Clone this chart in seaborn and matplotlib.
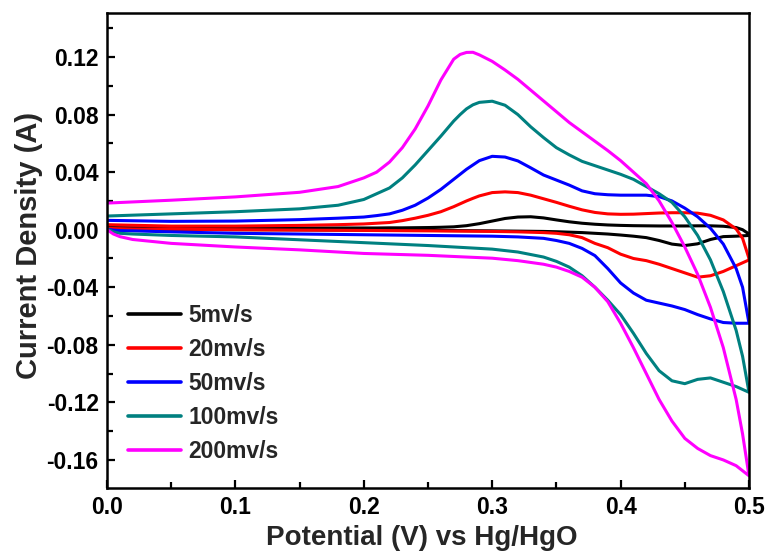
import numpy as np
import pandas as pd
import seaborn as sns
import matplotlib
matplotlib.use("Agg")
import matplotlib.pyplot as plt
from matplotlib.ticker import MultipleLocator, FormatStrFormatter

# ---------------- data ----------------
scan_rates = ["5mv/s", "20mv/s", "50mv/s", "100mv/s", "200mv/s"]
colors = ["#000000", "#ff0000", "#0000ff", "#008080", "#ff00ff"]

# anodic (forward) sweep potentials
pot_fwd = [0.0, 0.05, 0.10, 0.15, 0.18, 0.20, 0.21, 0.22, 0.23, 0.24, 0.25, 0.26,
           0.27, 0.275, 0.28, 0.285, 0.29, 0.30, 0.31, 0.32, 0.33, 0.34, 0.35, 0.36,
           0.37, 0.38, 0.39, 0.40, 0.41, 0.42, 0.43, 0.44, 0.45, 0.46, 0.47, 0.48,
           0.49, 0.495, 0.50]
# cathodic (reverse) sweep potentials
pot_rev = [0.50, 0.49, 0.48, 0.47, 0.46, 0.45, 0.44, 0.43, 0.42, 0.41, 0.40, 0.39,
           0.38, 0.37, 0.36, 0.35, 0.34, 0.32, 0.30, 0.25, 0.20, 0.15, 0.10, 0.05,
           0.02, 0.01, 0.005, 0.0]

fwd_5 = [0.0015, 0.0012, 0.0012, 0.0012, 0.0012, 0.0012, 0.0012, 0.0013, 0.0013, 0.0014,
         0.0015, 0.0017, 0.002, 0.0024, 0.0028, 0.0035, 0.0042, 0.006, 0.0078, 0.0088,
         0.009, 0.0082, 0.0068, 0.0055, 0.0045, 0.0038, 0.0033, 0.003, 0.0028, 0.0027,
         0.0026, 0.0026, 0.0026, 0.0027, 0.0027, 0.0024, 0.0015, 0.0, -0.003]
rev_5 = [-0.004, -0.0045, -0.0048, -0.0068, -0.0098, -0.011, -0.010, -0.0075, -0.0055,
         -0.0045, -0.0037, -0.003, -0.0025, -0.002, -0.0017, -0.0014, -0.0012, -0.001,
         -0.0008, -0.0005, -0.0003, -0.0001, 0.0, 0.0002, 0.0004, 0.0005, 0.0005, 0.0005]

fwd_20 = [0.0035, 0.0025, 0.0025, 0.003, 0.0035, 0.004, 0.0045, 0.005, 0.0063, 0.008,
          0.010, 0.0125, 0.016, 0.018, 0.020, 0.0218, 0.0235, 0.0258, 0.0263, 0.0258,
          0.024, 0.0215, 0.019, 0.0163, 0.0138, 0.012, 0.011, 0.0107, 0.0108, 0.0112,
          0.0116, 0.0118, 0.0118, 0.0115, 0.010, 0.0068, 0.0005, -0.006, -0.020]
rev_20 = [-0.021, -0.025, -0.029, -0.032, -0.033, -0.030, -0.027, -0.024, -0.0215, -0.020,
          -0.017, -0.0125, -0.0095, -0.0055, -0.0035, -0.0025, -0.002, -0.0015, -0.0012,
          -0.0008, -0.0005, -0.0003, 0.0, 0.0003, 0.0005, 0.0007, 0.0008, 0.001]

fwd_50 = [0.0065, 0.0058, 0.006, 0.007, 0.008, 0.0088, 0.0098, 0.011, 0.0135, 0.017,
          0.022, 0.028, 0.035, 0.0385, 0.042, 0.045, 0.048, 0.051, 0.0505, 0.0478,
          0.043, 0.038, 0.0345, 0.031, 0.027, 0.025, 0.0243, 0.024, 0.024, 0.024,
          0.023, 0.020, 0.015, 0.009, 0.001, -0.010, -0.027, -0.040, -0.065]
rev_50 = [-0.065, -0.065, -0.0645, -0.062, -0.059, -0.0555, -0.053, -0.051, -0.049, -0.044,
          -0.037, -0.027, -0.018, -0.013, -0.0095, -0.0075, -0.006, -0.005, -0.0045,
          -0.004, -0.0035, -0.003, -0.0025, -0.0015, -0.0008, -0.0006, -0.0003, 0.0005]

fwd_100 = [0.0095, 0.011, 0.0125, 0.0145, 0.017, 0.021, 0.025, 0.029, 0.036, 0.045,
           0.055, 0.065, 0.0755, 0.080, 0.084, 0.0868, 0.0885, 0.0893, 0.0865, 0.080,
           0.0715, 0.064, 0.057, 0.052, 0.0475, 0.0445, 0.0415, 0.0385, 0.035, 0.030,
           0.025, 0.019, 0.009, -0.004, -0.021, -0.043, -0.070, -0.088, -0.113]
rev_100 = [-0.113, -0.109, -0.106, -0.103, -0.104, -0.107, -0.105, -0.098, -0.086, -0.072,
           -0.059, -0.049, -0.040, -0.032, -0.026, -0.022, -0.019, -0.0155, -0.0135,
           -0.011, -0.009, -0.007, -0.005, -0.004, -0.003, -0.0025, -0.0015, 0.0005]

fwd_200 = [0.0185, 0.0205, 0.0228, 0.026, 0.030, 0.036, 0.040, 0.047, 0.057, 0.070,
           0.086, 0.104, 0.1185, 0.1218, 0.1232, 0.1233, 0.1215, 0.117, 0.111, 0.1045,
           0.097, 0.0895, 0.082, 0.0745, 0.068, 0.0615, 0.055, 0.048, 0.040, 0.032,
           0.020, 0.005, -0.012, -0.031, -0.054, -0.082, -0.118, -0.142, -0.171]
rev_200 = [-0.171, -0.164, -0.160, -0.157, -0.152, -0.145, -0.133, -0.118, -0.100, -0.082,
           -0.065, -0.050, -0.040, -0.033, -0.029, -0.026, -0.024, -0.0215, -0.0198,
           -0.0178, -0.0165, -0.014, -0.012, -0.0095, -0.0068, -0.0048, -0.003, 0.0]

fwd_all = [fwd_5, fwd_20, fwd_50, fwd_100, fwd_200]
rev_all = [rev_5, rev_20, rev_50, rev_100, rev_200]

x_ticks = [0.0, 0.1, 0.2, 0.3, 0.4, 0.5]
y_ticks = [-0.16, -0.12, -0.08, -0.04, 0.00, 0.04, 0.08, 0.12]

# ---------------- build table ----------------
frames = []
for lab, f, r in zip(scan_rates, fwd_all, rev_all):
    pot = list(pot_fwd) + list(pot_rev)
    cur = list(f) + list(r)
    frames.append(pd.DataFrame({"Potential": pot, "Current": cur, "Scan": lab,
                                "step": np.arange(len(pot))}))
df = pd.concat(frames, ignore_index=True)

# ---------------- style ----------------
sns.set_theme(style="ticks")
plt.rcParams["font.family"] = ["Liberation Sans", "DejaVu Sans"]
plt.rcParams["font.weight"] = "bold"
plt.rcParams["axes.labelweight"] = "bold"
plt.rcParams["lines.solid_joinstyle"] = "round"

fig = plt.figure(figsize=(7.71, 5.54), dpi=100)
ax = fig.add_axes([107 / 771, 1 - 488 / 554, (749 - 107) / 771, (488 - 13) / 554])

sns.lineplot(data=df, x="Potential", y="Current", hue="Scan", hue_order=scan_rates,
             palette=dict(zip(scan_rates, colors)), sort=False, estimator=None,
             linewidth=2.2, ax=ax, legend=True)

ax.set_xlim(0.0, 0.5)
ax.set_ylim(-0.1795, 0.1506)
ax.set_xticks(x_ticks)
ax.set_yticks(y_ticks)
ax.xaxis.set_major_formatter(FormatStrFormatter("%.1f"))
ax.yaxis.set_major_formatter(FormatStrFormatter("%.2f"))
ax.xaxis.set_minor_locator(MultipleLocator(0.05))
ax.yaxis.set_minor_locator(MultipleLocator(0.02))
ax.tick_params(which="both", direction="in", width=1.6, colors="black",
               labelsize=16.5, top=False, right=False)
ax.tick_params(which="major", length=6)
ax.tick_params(which="minor", length=4)
ax.tick_params(axis="x", which="major", pad=6)
ax.tick_params(axis="y", which="major", pad=6)
for lbl in ax.get_xticklabels() + ax.get_yticklabels():
    lbl.set_fontweight("bold")
for sp in ax.spines.values():
    sp.set_visible(True)
    sp.set_linewidth(1.8)
    sp.set_color("black")

ax.set_xlabel("Potential (V) vs Hg/HgO", fontsize=20, fontweight="bold")
ax.set_ylabel("Current Density (A)", fontsize=21, fontweight="bold")
ax.xaxis.set_label_coords(0.49, -0.078)
ax.yaxis.set_label_coords(-0.10, 0.51)

handles, labels = ax.get_legend_handles_labels()
leg = ax.legend(handles, labels, loc="center left", bbox_to_anchor=(0.0, 0.221),
                frameon=False, handlelength=2.35, handletextpad=0.3,
                labelspacing=0.48, borderaxespad=0.5,
                prop={"weight": "bold", "size": 16.5})
for h in leg.get_lines():
    h.set_linewidth(2.6)

fig.savefig("out.png", dpi=100)
